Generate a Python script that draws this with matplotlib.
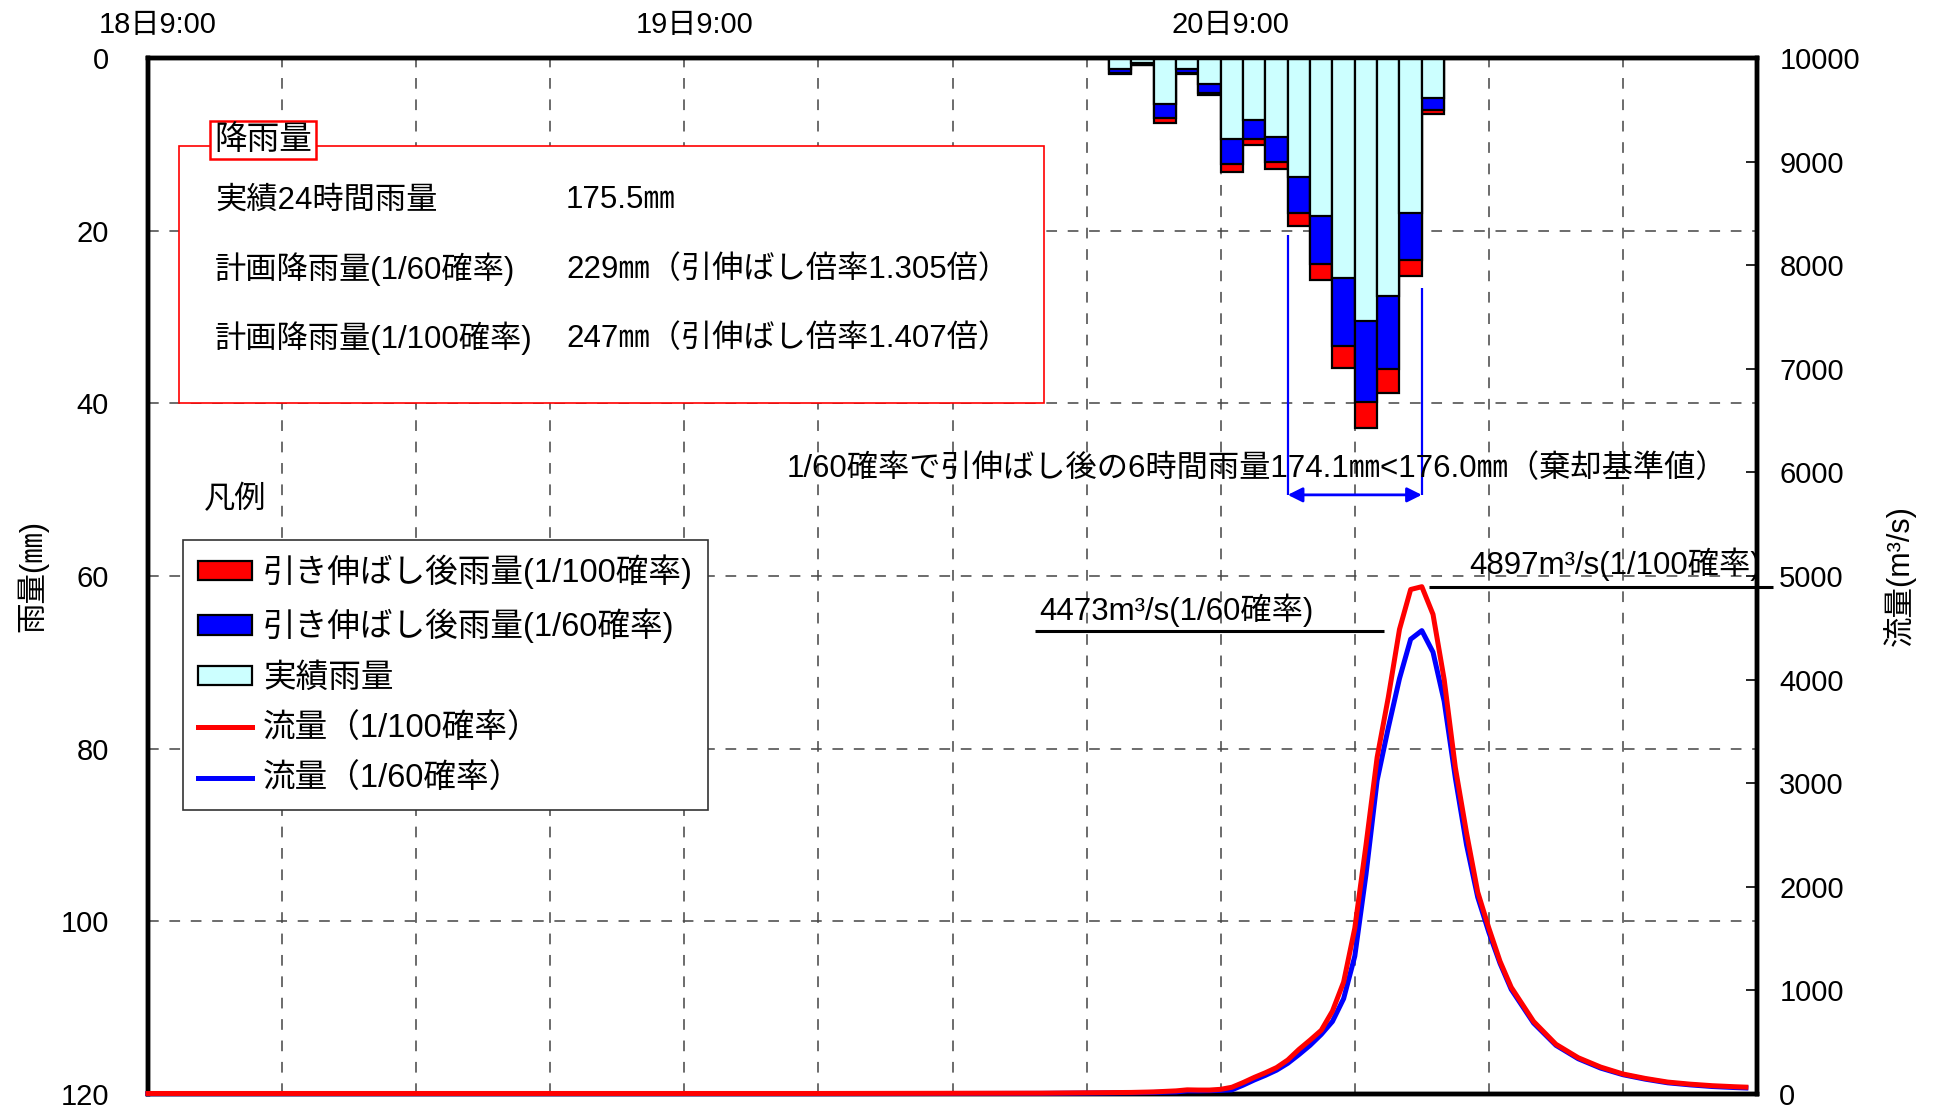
import matplotlib
matplotlib.use('Agg')
import matplotlib.pyplot as plt
from matplotlib.patches import Rectangle, Patch
from matplotlib.lines import Line2D
from matplotlib.transforms import ScaledTranslation

plt.rcParams['font.family'] = ['Liberation Sans', 'Noto Sans CJK JP', 'DejaVu Sans']

# hourly rainfall (mm), each bar covers [h, h+1], hours counted from 18日9:00
rain_hours = list(range(43, 58))
rain_actual = [1.3, 0.6, 5.3, 1.3, 3.05, 9.4, 7.2, 9.2, 13.8, 18.3, 25.5, 30.5, 27.6, 17.9, 4.6]
rain_60 = [1.7, 0.8, 7.0, 1.7, 4.0, 12.3, 9.4, 12.0, 18.0, 23.9, 33.3, 39.8, 36.0, 23.4, 6.0]
rain_100 = [1.8, 0.85, 7.5, 1.8, 4.3, 13.2, 10.1, 12.9, 19.4, 25.7, 35.9, 42.9, 38.8, 25.2, 6.5]

# discharge (m3/s)
flow_hours = [0, 10, 20, 30, 40, 44, 45, 46, 46.5, 47, 47.5, 48, 48.5, 49, 49.5, 50, 50.5,
              51, 51.5, 52, 52.5, 53, 53.5, 54, 54.5, 55, 55.5, 56, 56.5, 57, 57.5, 58,
              58.5, 59, 59.5, 60, 60.5, 61, 62, 63, 64, 65, 66, 67, 68, 69, 70, 71, 71.5]
flow_100 = [5, 5, 5, 5, 8, 15, 20, 30, 40, 38, 38, 45, 65, 110, 160, 205, 255,
            328, 430, 520, 615, 800, 1080, 1600, 2400, 3250, 3830, 4485, 4870, 4897, 4630, 4000,
            3150, 2520, 1950, 1600, 1280, 1030, 700, 480, 350, 260, 193, 150, 115, 95, 80, 70, 66]
flow_60 = [3, 3, 3, 3, 6, 12, 15, 20, 30, 30, 32, 35, 40, 85, 135, 180, 230,
           296, 380, 470, 575, 700, 920, 1330, 2117, 3027, 3536, 4010, 4390, 4473, 4265, 3790,
           3050, 2405, 1900, 1560, 1260, 1010, 685, 470, 340, 250, 186, 143, 108, 88, 72, 62, 58]

x_ticks = list(range(0, 73, 6))
x_labels = ['18日9:00', '', '', '', '19日9:00', '', '', '', '20日9:00', '', '', '', '']

FS = 21     # tick labels
FT = 22.5   # texts in the plot
FL = 23.5   # legend

fig = plt.figure(figsize=(19.37, 11.12), dpi=100)
ax = fig.add_axes([0.0764, 0.0162, 0.8307, 0.9316])
ax2 = ax.twinx()

# rainfall bars (hanging from the top)
ax.bar(rain_hours, rain_100, width=1, align='edge', color='#FF0000', edgecolor='black', lw=1.6, zorder=3)
ax.bar(rain_hours, rain_60, width=1, align='edge', color='#0000FF', edgecolor='black', lw=1.6, zorder=3)
ax.bar(rain_hours, rain_actual, width=1, align='edge', color='#CCFFFF', edgecolor='black', lw=1.6, zorder=3)

ax.set_xlim(0, 72)
ax.set_ylim(120, 0)
ax.set_yticks(range(0, 121, 20))
ax.set_xticks(x_ticks)
ax.set_xticklabels(x_labels)
ax.xaxis.tick_top()
ax.tick_params(axis='x', length=0, pad=14, labelsize=FS)
ax.tick_params(axis='y', direction='in', length=0, pad=28, labelsize=FS)
shift = ScaledTranslation(0.10, 0, fig.dpi_scale_trans)
for lbl in ax.get_xticklabels():
    lbl.set_transform(lbl.get_transform() + shift)
ax.grid(True, color='#444444', lw=1.1, linestyle=(0, (7, 7)))
ax.set_axisbelow(True)
ax.set_ylabel('雨量(㎜)', fontsize=22)
ax.yaxis.set_label_coords(-0.062, 0.5)

# discharge lines
ax2.plot(flow_hours, flow_100, color='#FF0000', lw=3.6, zorder=4, clip_on=False)
ax2.plot(flow_hours, flow_60, color='#0000FF', lw=3.6, zorder=3, clip_on=False)
ax2.set_ylim(0, 10000)
ax2.set_yticks(range(0, 10001, 1000))
ax2.tick_params(axis='y', direction='in', length=8, width=1.2, pad=16, labelsize=FS)
ax2.set_ylabel('流量(m³/s)', fontsize=22, rotation=90)
ax2.yaxis.set_label_coords(1.078, 0.5)

for a in (ax, ax2):
    for s in a.spines.values():
        s.set_linewidth(3.2)

# peak annotations
ax2.hlines(4897, 57.3, 72.7, color='black', lw=2.2, clip_on=False, zorder=5)
ax2.text(59.1, 5110, '4897m³/s(1/100確率)', fontsize=FT, ha='left', va='center')
ax2.hlines(4473, 39.7, 55.3, color='black', lw=2.2, zorder=5)
ax2.text(39.9, 4670, '4473m³/s(1/60確率)', fontsize=FT, ha='left', va='center')

# 6-hour window
ax.vlines(51, 20.5, 50.6, color='#0000FF', lw=1.6, zorder=4)
ax.vlines(57, 26.6, 50.6, color='#0000FF', lw=1.6, zorder=4)
ax.annotate('', xy=(51, 50.6), xytext=(57, 50.6),
            arrowprops=dict(arrowstyle='<|-|>', color='#0000FF', lw=2, mutation_scale=22,
                            shrinkA=0, shrinkB=0), zorder=4)
ax.text(49.6, 47.6, '1/60確率で引伸ばし後の6時間雨量174.1㎜<176.0㎜（棄却基準値）',
        fontsize=FT, ha='center', va='center', zorder=5)

# rainfall summary box
ax.add_patch(Rectangle((1.4, 10.2), 38.7, 29.8, facecolor='white', edgecolor='#FF0000', lw=1.2, zorder=4))
ax.text(2.95, 9.5, '降雨量', fontsize=FL, ha='left', va='center', zorder=6,
        bbox=dict(boxstyle='square,pad=0.12', facecolor='white', edgecolor='#FF0000', lw=1.8))
rows = [('実績24時間雨量', '175.5㎜', 16.5),
        ('計画降雨量(1/60確率)', '229㎜（引伸ばし倍率1.305倍）', 24.5),
        ('計画降雨量(1/100確率)', '247㎜（引伸ばし倍率1.407倍）', 32.5)]
for left, right, yy in rows:
    ax.text(3.0, yy, left, fontsize=FT, ha='left', va='center', zorder=5)
    ax.text(18.7, yy, right, fontsize=FT, ha='left', va='center', zorder=5)

# legend
ax.text(2.5, 51.2, '凡例', fontsize=FT, ha='left', va='center')
handles = [Patch(facecolor='#FF0000', edgecolor='black', lw=1.6),
           Patch(facecolor='#0000FF', edgecolor='black', lw=1.6),
           Patch(facecolor='#CCFFFF', edgecolor='black', lw=1.6),
           Line2D([], [], color='#FF0000', lw=3.6),
           Line2D([], [], color='#0000FF', lw=3.6)]
labels = ['引き伸ばし後雨量(1/100確率)', '引き伸ばし後雨量(1/60確率)', '実績雨量',
          '流量（1/100確率）', '流量（1/60確率）']
leg = ax2.legend(handles, labels, loc='upper left', bbox_to_anchor=(0.0218, 0.535),
                 bbox_transform=ax.transAxes, fancybox=False, framealpha=1,
                 edgecolor='#333333', fontsize=FL, handlelength=1.65, handleheight=0.55,
                 labelspacing=0.6, borderpad=0.45, handletextpad=0.35, borderaxespad=0)
leg.get_frame().set_linewidth(1.2)
leg.set_zorder(10)

fig.savefig('out.png', dpi=100)
